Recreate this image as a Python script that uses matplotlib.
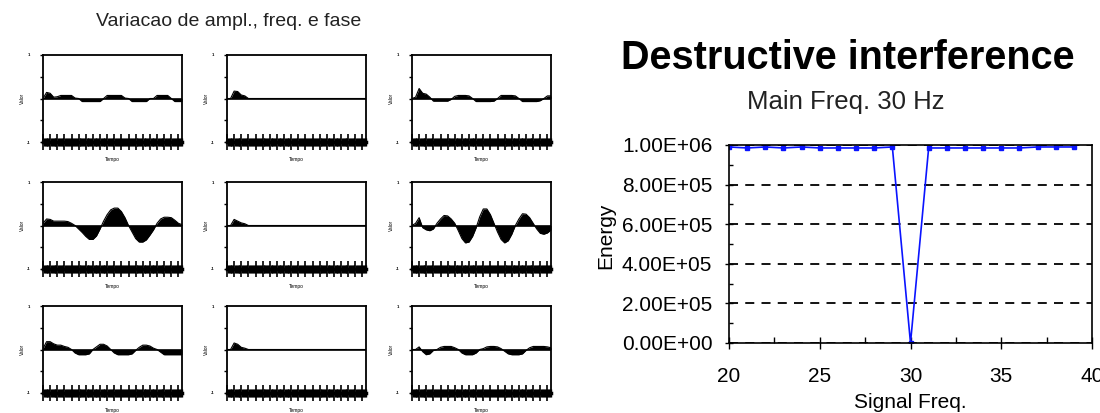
import numpy as np
import matplotlib.pyplot as plt
from matplotlib.ticker import MultipleLocator

plt.rcParams['font.family'] = ['Liberation Sans', 'DejaVu Sans']

# --- small 3x3 grid: sampled waveforms (normalized amplitude) ---
sig_r1c1 = [0, 0.14, 0.12, 0.03, 0.04, 0.07, 0.07, 0.07, 0.07, 0.01, 0, -0.07, -0.07, -0.07,
            -0.07, -0.07, -0.07, 0, 0.07, 0.07, 0.07, 0.07, 0.07, 0.01, 0, -0.07, -0.07, -0.07,
            -0.07, -0.07, 0, 0, 0.07, 0.07, 0.07, 0.07, 0, -0.07, -0.07, -0.07]
sig_r1c2 = [0, 0, 0.17, 0.16, 0.08, 0.06] + [0] * 34
sig_r1c3 = [0, 0.03, 0.23, 0.12, 0.1, 0.03, -0.06, -0.06, -0.06, -0.06, -0.06, -0.02, 0.05,
            0.07, 0.07, 0.07, 0.06, 0, -0.07, -0.07, -0.07, -0.07, -0.07, -0.06, 0, 0.07,
            0.07, 0.07, 0.07, 0.06, 0, -0.07, -0.07, -0.07, -0.07, -0.07, -0.05, 0, 0.06, 0.06]
sig_r2c1 = [0.05, 0.15, 0.14, 0.1, 0.1, 0.1, 0.1, 0.09, 0.05, 0, -0.08, -0.16, -0.25, -0.32,
            -0.32, -0.24, -0.08, 0.1, 0.25, 0.36, 0.4, 0.4, 0.32, 0.18, 0.0, -0.15, -0.3, -0.38,
            -0.38, -0.33, -0.22, -0.1, 0.05, 0.15, 0.19, 0.19, 0.18, 0.12, 0.05, 0.02]
sig_r2c2 = [0, 0, 0.14, 0.1, 0.06, 0.04] + [0] * 34
sig_r2c3 = [0, 0.05, 0.18, -0.05, -0.1, -0.12, -0.08, 0.05, 0.15, 0.23, 0.22, 0.15, 0.05,
            -0.12, -0.3, -0.4, -0.38, -0.25, -0.05, 0.2, 0.38, 0.38, 0.25, 0.05, -0.15, -0.32,
            -0.4, -0.35, -0.2, 0.0, 0.15, 0.27, 0.26, 0.18, 0.05, -0.08, -0.18, -0.2, -0.17, -0.1]
sig_r3c1 = [0.02, 0.18, 0.18, 0.13, 0.1, 0.1, 0.07, 0.05, 0, -0.08, -0.12, -0.12, -0.12, -0.1,
            0, 0.06, 0.12, 0.12, 0.08, 0, -0.08, -0.12, -0.12, -0.12, -0.12, -0.1, -0.02, 0.05,
            0.1, 0.1, 0.08, 0.03, 0, -0.06, -0.12, -0.12, -0.12, -0.12, -0.12, -0.12]
sig_r3c2 = [0, 0, 0.15, 0.12, 0.05, 0.03] + [0] * 34
sig_r3c3 = [0, 0, 0.06, -0.05, -0.12, -0.1, -0.02, 0, 0.05, 0.07, 0.07, 0.07, 0.04, 0, -0.08,
            -0.12, -0.12, -0.12, -0.08, 0, 0.02, 0.06, 0.07, 0.07, 0.06, 0.02, -0.04, -0.1,
            -0.12, -0.12, -0.12, -0.1, -0.02, 0.04, 0.07, 0.07, 0.07, 0.07, 0.06, 0.04]
signals = [[sig_r1c1, sig_r1c2, sig_r1c3],
           [sig_r2c1, sig_r2c2, sig_r2c3],
           [sig_r3c1, sig_r3c2, sig_r3c3]]

# --- right chart: energy vs signal frequency ---
freq = list(range(20, 40))
energy = [0.99e6, 0.985e6, 0.99e6, 0.985e6, 0.99e6, 0.985e6, 0.985e6, 0.985e6, 0.985e6, 0.99e6,
          0.0, 0.985e6, 0.985e6, 0.985e6, 0.985e6, 0.985e6, 0.985e6, 0.99e6, 0.99e6, 0.99e6]

W, H = 1100, 413
fig = plt.figure(figsize=(W / 100, H / 100), dpi=100)

fig.text(229 / W, 1 - 22 / H, 'Variacao de ampl., freq. e fase', ha='center', va='center',
         fontsize=14, color='#222222')

col_left = [43, 227, 412]
row_top = [55, 182, 306]
bw, bh = 139, 87
for r in range(3):
    for c in range(3):
        ax = fig.add_axes([col_left[c] / W, 1 - (row_top[r] + bh) / H, bw / W, bh / H])
        y = np.array(signals[r][c])
        t = np.arange(len(y))
        ax.fill_between(t, 0, y, color='black', lw=0)
        ax.plot(t, y, color='black', lw=0.8)
        ax.axhline(0, color='black', lw=1.2)
        ax.set_xlim(0, len(y) - 1)
        ax.set_ylim(-1, 1)
        for s in ax.spines.values():
            s.set_linewidth(1.3)
        ax.spines['bottom'].set_linewidth(2.5)
        ax.set_yticks([-1, -0.5, 0, 0.5, 1])
        ax.set_yticklabels(['-1', '', '', '', '1'], fontsize=3, fontweight='bold')
        ax.tick_params(axis='y', length=2, width=1, pad=7)
        ax.xaxis.set_major_locator(MultipleLocator(2))
        ax.xaxis.set_minor_locator(MultipleLocator(0.25))
        ax.tick_params(axis='x', which='major', direction='inout', length=11, width=1.2)
        ax.tick_params(axis='x', which='minor', direction='inout', length=6, width=1.0)
        ax.set_xticklabels([])
        ax.set_xlabel('Tempo', fontsize=3.5, labelpad=1.5)
        ax.set_ylabel('Valor', fontsize=3.5, labelpad=1)

# right chart
ax2 = fig.add_axes([729 / W, 1 - 343 / H, 363 / W, 198 / H])
ax2.plot(freq, energy, color='#0a14ff', lw=1.2, marker='s', ms=3.5)
ax2.set_xlim(20, 40)
ax2.set_ylim(0, 1e6)
ax2.set_yticks(np.arange(0, 1.01e6, 2e5))
ax2.set_yticklabels(['0.00E+00', '2.00E+05', '4.00E+05', '6.00E+05', '8.00E+05', '1.00E+06'])
ax2.yaxis.set_minor_locator(MultipleLocator(1e5))
ax2.set_xticks([20, 25, 30, 35, 40])
ax2.xaxis.set_minor_locator(MultipleLocator(2.5))
ax2.tick_params(axis='both', which='major', labelsize=15, length=4, width=1, colors='black')
ax2.tick_params(axis='x', which='major', direction='inout', length=8, pad=13)
ax2.tick_params(axis='x', which='minor', direction='in', length=4, width=1)
ax2.tick_params(axis='y', which='minor', direction='in', length=3, width=1)
ax2.tick_params(axis='y', which='major', direction='inout', length=6, pad=9)
ax2.grid(axis='y', color='black', ls=(0, (5, 4)), lw=1.3)
ax2.set_axisbelow(True)
for s in ax2.spines.values():
    s.set_linewidth(1.2)
ax2.set_xlabel('Signal Freq.', fontsize=15)
ax2.xaxis.set_label_coords(0.5, -0.25)
ax2.set_ylabel('Energy', fontsize=15)
ax2.yaxis.set_label_coords(-0.314, 0.54)

fig.text(848 / W, 1 - 58 / H, 'Destructive interference', ha='center', va='center',
         fontsize=28.5, fontweight='bold')
fig.text(846 / W, 1 - 102 / H, 'Main Freq. 30 Hz', ha='center', va='center', fontsize=18.5,
         color='#222222')

fig.savefig('out.png', dpi=100)
